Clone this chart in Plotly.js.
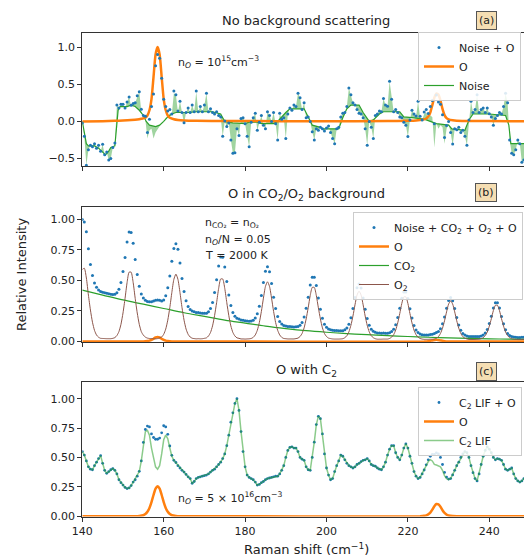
<!DOCTYPE html>
<html>
<head>
<meta charset="utf-8">
<script src="https://cdn.plot.ly/plotly-3.0.1.min.js"></script>
<style>html,body{margin:0;padding:0;overflow:hidden;background:#fff;}#plot{width:540px;height:558px;}</style>
</head>
<body>
<div id="plot"></div>
<script>
// ---------- shared x grid (Raman shift, cm^-1, step 0.5) ----------
const grid = [];
for (let i = 0; i <= 220; i++) grid.push(140 + 0.5 * i);
const xTicks = [140, 160, 180, 200, 220, 240];

// ---------- Panel (a): No background scattering ----------
const rawNoiseA = [
 -0.02,-0.20,-0.59,-0.38,-0.32,-0.34,-0.30,-0.36,-0.32,-0.40,
 -0.31,-0.45,-0.41,-0.52,-0.50,-0.35,-0.30,0.22,0.18,0.23,
 0.22,0.18,0.26,0.33,0.20,0.24,0.25,0.32,0.40,0.13,
 0.08,0.02,-0.23,-0.12,-0.10,-0.23,-0.15,-0.10,-0.05,-0.02,
 0.0,0.05,0.06,0.11,0.10,0.38,0.36,0.12,0.27,0.12,
 -0.03,0.12,0.18,0.12,0.22,0.13,0.40,0.13,0.20,0.13,
 0.22,0.38,0.13,0.17,0.12,0.10,0.13,0.08,0.06,-0.20,
 0.0,-0.07,-0.02,-0.25,-0.43,-0.42,-0.10,-0.19,0.04,0.05,
 -0.03,-0.20,-0.34,-0.01,0.05,0.11,-0.12,-0.01,0.08,-0.05,
 -0.10,0.13,0.08,0.0,0.12,-0.03,-0.25,0.11,0.03,0.05,
 -0.23,0.10,0.18,0.15,0.22,0.20,0.38,0.32,0.16,0.25,
 0.05,0.06,0.0,-0.14,-0.25,-0.10,-0.12,-0.08,-0.10,-0.13,
 -0.09,-0.06,-0.15,-0.23,-0.30,-0.10,-0.08,0.06,0.11,0.12,
 0.20,0.45,0.36,0.25,0.22,0.16,0.11,0.10,0.05,-0.10,
 -0.32,0.0,-0.08,-0.23,0.08,0.10,0.14,0.13,0.31,0.22,
 0.20,0.54,0.30,0.13,0.16,0.12,0.06,0.05,-0.01,-0.05,
 -0.21,0.02,0.15,0.10,0.06,0.27,0.05,0.02,0.10,0.12,
 0.04,0.08,0.06,-0.35,-0.02,-0.10,-0.05,-0.08,-0.30,-0.10,
 -0.03,-0.15,-0.32,-0.10,-0.12,-0.08,-0.15,-0.12,-0.20,-0.32,
 0.02,0.27,0.12,0.16,0.36,0.12,0.16,0.18,0.12,0.18,
 0.10,0.06,-0.05,0.04,0.08,0.12,0.10,0.20,0.38,0.25,
 -0.25,-0.43,-0.45,-0.38,-0.25,-0.30,-0.55,-0.52,-0.40,-0.30,
 -0.30
];
const noiseX = [140,140.5,141,141.5,143,144,145,145.7,146.5,147,148,148.4,148.8,149.3,151,152,153,154,155,155.7,
 156.5,158,159,160,161,162,163,166,168,172,174,175,177,180,181,183,184,187,188,190,
 191,194.5,195.5,196.5,198.5,199,203,204,205,206,208,209,210.5,211.5,213,214,218,219,221,224,
 225.5,227,230,230.8,234,235,236,240,244,244.8,245.3,248,250];
const noiseY = [0,-0.15,-0.3,-0.33,-0.33,-0.36,-0.42,-0.45,-0.4,-0.35,-0.33,-0.1,0.15,0.2,0.2,0.22,0.2,0.15,0.08,0.0,
 -0.05,-0.07,-0.05,0.0,0.06,0.1,0.12,0.12,0.13,0.13,0.1,0.0,-0.02,-0.03,-0.01,-0.01,-0.03,-0.03,0.0,0.12,
 0.17,0.17,0.05,-0.05,-0.08,-0.1,-0.1,0.05,0.17,0.22,0.22,0.12,0.0,0.02,0.1,0.13,0.13,0.06,0.05,0.03,
 0.0,-0.03,-0.05,-0.1,-0.12,0.02,0.1,0.1,0.08,-0.05,-0.3,-0.3,-0.3];
const oAx = [140,145,148,150,152,153.5,154.5,155.5,156,156.5,157,157.5,158,158.5,159,159.5,160,160.5,161,161.5,
 162.5,163.5,165,168,175,200,215,220,222,223,224,224.5,225,225.5,226,226.5,227,227.5,228,228.5,
 229,229.5,230,231,232,240,250];
const oAy = [0,0.003,0.008,0.012,0.018,0.025,0.035,0.05,0.08,0.15,0.3,0.6,0.9,1.0,0.9,0.6,0.3,0.15,0.08,0.05,
 0.03,0.02,0.013,0.008,0.005,0.003,0.004,0.008,0.012,0.018,0.028,0.04,0.065,0.12,0.22,0.32,0.375,0.36,0.28,0.17,
 0.085,0.045,0.028,0.015,0.009,0.004,0.002];

// ---------- Panel (b): O in CO2/O2 background ----------
const dotsB = [
 1.0,0.98,0.90,0.76,0.63,0.54,0.48,0.444,0.422,0.409,
 0.404,0.399,0.394,0.39,0.386,0.385,0.387,0.40,0.428,0.484,
 0.573,0.689,0.815,0.898,0.894,0.805,0.671,0.549,0.452,0.389,
 0.356,0.337,0.328,0.325,0.326,0.332,0.337,0.34,0.338,0.332,
 0.34,0.374,0.44,0.537,0.657,0.762,0.801,0.755,0.643,0.516,
 0.409,0.333,0.287,0.262,0.249,0.243,0.238,0.236,0.232,0.23,
 0.23,0.231,0.243,0.269,0.32,0.401,0.505,0.619,0.693,0.69,
 0.61,0.491,0.381,0.295,0.238,0.207,0.189,0.183,0.175,0.173,
 0.169,0.168,0.166,0.167,0.173,0.191,0.226,0.288,0.376,0.483,
 0.576,0.612,0.572,0.474,0.363,0.27,0.204,0.164,0.142,0.131,
 0.127,0.123,0.122,0.12,0.118,0.12,0.122,0.133,0.156,0.201,
 0.272,0.363,0.462,0.527,0.526,0.459,0.356,0.263,0.189,0.141,
 0.115,0.101,0.096,0.092,0.09,0.089,0.087,0.087,0.088,0.095,
 0.11,0.141,0.194,0.269,0.36,0.44,0.471,0.438,0.357,0.264,
 0.187,0.132,0.099,0.083,0.074,0.069,0.068,0.067,0.068,0.067,
 0.066,0.07,0.081,0.1,0.137,0.196,0.271,0.353,0.406,0.406,
 0.351,0.267,0.191,0.131,0.093,0.072,0.06,0.055,0.052,0.052,
 0.053,0.057,0.059,0.064,0.072,0.082,0.104,0.144,0.201,0.272,
 0.335,0.361,0.334,0.27,0.196,0.135,0.092,0.065,0.052,0.045,
 0.041,0.041,0.04,0.04,0.04,0.041,0.045,0.052,0.069,0.098,
 0.146,0.207,0.273,0.316,0.316,0.273,0.205,0.144,0.096,0.065,
 0.048,0.04,0.036,0.033,0.032,0.032,0.033,0.034,0.035,0.04,
 0.05
];
const o2B = [
 0.59,0.60,0.52,0.38,0.257,0.157,0.09,0.052,0.034,0.025,
 0.024,0.023,0.022,0.022,0.022,0.025,0.031,0.048,0.08,0.14,
 0.233,0.352,0.482,0.568,0.568,0.482,0.352,0.233,0.14,0.08,
 0.051,0.035,0.027,0.024,0.023,0.022,0.021,0.023,0.029,0.036,
 0.058,0.101,0.174,0.277,0.401,0.509,0.552,0.509,0.401,0.277,
 0.174,0.101,0.058,0.036,0.026,0.023,0.021,0.022,0.021,0.022,
 0.025,0.029,0.044,0.073,0.127,0.211,0.318,0.435,0.512,0.512,
 0.435,0.318,0.211,0.127,0.073,0.044,0.029,0.025,0.02,0.02,
 0.019,0.02,0.021,0.024,0.033,0.053,0.091,0.155,0.246,0.355,
 0.451,0.489,0.451,0.355,0.246,0.155,0.091,0.053,0.033,0.024,
 0.022,0.02,0.02,0.02,0.02,0.023,0.027,0.04,0.065,0.111,
 0.184,0.276,0.377,0.443,0.443,0.377,0.276,0.184,0.111,0.065,
 0.04,0.027,0.023,0.02,0.019,0.019,0.019,0.02,0.022,0.03,
 0.046,0.078,0.132,0.208,0.3,0.38,0.412,0.38,0.3,0.208,
 0.132,0.078,0.046,0.03,0.022,0.018,0.018,0.018,0.019,0.019,
 0.019,0.024,0.035,0.055,0.093,0.152,0.228,0.311,0.365,0.365,
 0.311,0.228,0.152,0.093,0.055,0.035,0.024,0.019,0.017,0.017,
 0.017,0.018,0.018,0.02,0.026,0.039,0.065,0.108,0.169,0.242,
 0.306,0.332,0.306,0.242,0.169,0.108,0.065,0.039,0.026,0.02,
 0.016,0.016,0.016,0.016,0.017,0.018,0.022,0.03,0.047,0.077,
 0.125,0.186,0.253,0.296,0.296,0.253,0.186,0.125,0.077,0.047,
 0.03,0.022,0.018,0.016,0.015,0.015,0.016,0.017,0.019,0.024,
 0.034
];
const co2X = [140,145,150,155,160,165,170,175,180,185,190,195,200,205,210,215,220,225,230,235,240,245,250];
const co2Y = [0.42,0.38,0.34,0.305,0.27,0.235,0.205,0.175,0.15,0.125,0.105,0.088,0.075,0.064,0.055,0.047,0.04,0.034,0.029,0.025,0.021,0.018,0.016];
const oBx = [140,155,156,156.5,157,157.5,158,158.5,159,159.5,160,160.5,161,162,224,225,226,227,228,229,230,250];
const oBy = [0,0,0.003,0.006,0.012,0.022,0.032,0.036,0.032,0.022,0.012,0.006,0.003,0,0,0.002,0.008,0.014,0.008,0.002,0,0];

// ---------- Panel (c): O with C2 ----------
const c2Lif = [
 0.55,0.52,0.47,0.42,0.40,0.395,0.43,0.46,0.49,0.515,
 0.45,0.39,0.365,0.38,0.395,0.405,0.39,0.36,0.31,0.285,
 0.265,0.245,0.235,0.24,0.26,0.29,0.31,0.34,0.38,0.47,
 0.62,0.72,0.73,0.69,0.58,0.49,0.42,0.40,0.43,0.53,
 0.65,0.69,0.66,0.58,0.51,0.475,0.455,0.43,0.41,0.39,
 0.375,0.355,0.335,0.32,0.28,0.295,0.32,0.33,0.335,0.34,
 0.345,0.35,0.36,0.375,0.39,0.40,0.42,0.44,0.46,0.49,
 0.53,0.6,0.69,0.8,0.88,0.96,1.0,0.9,0.72,0.55,
 0.42,0.35,0.33,0.32,0.31,0.29,0.265,0.27,0.285,0.295,
 0.31,0.32,0.325,0.33,0.335,0.34,0.34,0.36,0.39,0.43,
 0.5,0.56,0.585,0.59,0.58,0.58,0.55,0.5,0.485,0.475,
 0.42,0.395,0.39,0.5,0.63,0.78,0.85,0.83,0.7,0.53,
 0.41,0.35,0.31,0.32,0.38,0.43,0.47,0.52,0.51,0.48,
 0.45,0.43,0.42,0.41,0.42,0.44,0.45,0.465,0.475,0.48,
 0.49,0.47,0.44,0.43,0.425,0.41,0.40,0.395,0.42,0.46,
 0.52,0.57,0.6,0.6,0.54,0.5,0.48,0.52,0.58,0.615,
 0.58,0.51,0.45,0.38,0.34,0.32,0.33,0.36,0.39,0.43,
 0.465,0.48,0.47,0.44,0.435,0.43,0.42,0.39,0.345,0.32,
 0.31,0.32,0.35,0.39,0.43,0.46,0.5,0.53,0.55,0.54,
 0.5,0.43,0.37,0.32,0.30,0.36,0.44,0.51,0.56,0.59,
 0.57,0.54,0.5,0.48,0.49,0.485,0.475,0.44,0.40,0.39,
 0.40,0.41,0.36,0.32,0.30,0.29,0.3,0.32,0.34,0.36,
 0.38
];
const oCx = [140,153,154,155,155.5,156,156.5,157,157.5,158,158.5,159,159.5,160,160.5,161,161.5,162,163,164,
 223,224,224.5,225,225.5,226,226.5,227,227.5,228,228.5,229,229.5,230,231,232,250];
const oCy = [0,0,0.002,0.008,0.018,0.037,0.07,0.12,0.18,0.235,0.255,0.235,0.18,0.12,0.07,0.037,0.018,0.008,0.002,0,
 0,0.003,0.007,0.015,0.03,0.055,0.085,0.103,0.1,0.08,0.05,0.027,0.013,0.006,0.001,0,0];

// total signal = base series + O peak series (at the shared grid points)
function addPeaks(base, px, py) {
  const m = {};
  px.forEach((x, i) => { m[x.toFixed(1)] = py[i]; });
  return base.map((v, i) => v + (m[grid[i].toFixed(1)] || 0));
}
const dotsA = addPeaks(rawNoiseA, oAx, oAy);
const dotsC = addPeaks(c2Lif, oCx, oCy);

// ---------- styling ----------
const W = 540, H = 558;
const PX = x => x / W, PY = y => 1 - y / H;
const FONT = 'DejaVu Sans, Arial, sans-serif';
const BLUE = '#1f77b4', ORANGE = '#ff7f0e', GREEN = '#2ca02c', BROWN = '#8c564b';
const mk = {size: 3, color: BLUE};

const traces = [
  // (a)
  {x: grid, y: rawNoiseA, mode: 'lines', line: {width: 0, color: 'rgba(0,0,0,0)'}, showlegend: false, hoverinfo: 'skip', xaxis: 'x', yaxis: 'y'},
  {x: noiseX, y: noiseY, mode: 'lines', fill: 'tonexty', fillcolor: 'rgba(44,160,44,0.45)', line: {width: 0, color: 'rgba(0,0,0,0)'}, showlegend: false, hoverinfo: 'skip', xaxis: 'x', yaxis: 'y'},
  {x: noiseX, y: noiseY, mode: 'lines', name: 'Noise', line: {color: GREEN, width: 1.2}, xaxis: 'x', yaxis: 'y', legend: 'legend', legendrank: 3},
  {x: oAx, y: oAy, mode: 'lines', name: 'O', line: {color: ORANGE, width: 2.5, shape: 'spline', smoothing: 0.6}, xaxis: 'x', yaxis: 'y', legend: 'legend', legendrank: 2},
  {x: grid, y: dotsA, mode: 'markers', name: 'Noise + O', marker: mk, xaxis: 'x', yaxis: 'y', legend: 'legend', legendrank: 1},
  // (b)
  {x: grid, y: dotsB, mode: 'markers', name: 'Noise + CO<sub>2</sub> + O<sub>2</sub> + O', marker: mk, xaxis: 'x2', yaxis: 'y2', legend: 'legend2', legendrank: 1},
  {x: oBx, y: oBy, mode: 'lines', name: 'O', line: {color: ORANGE, width: 2.5, shape: 'spline', smoothing: 0.6}, xaxis: 'x2', yaxis: 'y2', legend: 'legend2', legendrank: 2},
  {x: co2X, y: co2Y, mode: 'lines', name: 'CO<sub>2</sub>', line: {color: GREEN, width: 1.2, shape: 'spline'}, xaxis: 'x2', yaxis: 'y2', legend: 'legend2', legendrank: 3},
  {x: grid, y: o2B, mode: 'lines', name: 'O<sub>2</sub>', line: {color: BROWN, width: 1, shape: 'spline', smoothing: 0.6}, xaxis: 'x2', yaxis: 'y2', legend: 'legend2', legendrank: 4},
  // (c)
  {x: grid, y: dotsC, mode: 'markers', name: 'C<sub>2</sub> LIF + O', marker: {size: 2.8, color: BLUE}, xaxis: 'x3', yaxis: 'y3', legend: 'legend3', legendrank: 1},
  {x: oCx, y: oCy, mode: 'lines', name: 'O', line: {color: ORANGE, width: 2.5, shape: 'spline', smoothing: 0.6}, xaxis: 'x3', yaxis: 'y3', legend: 'legend3', legendrank: 2},
  {x: grid, y: c2Lif, mode: 'lines', name: 'C<sub>2</sub> LIF', line: {color: 'rgba(44,160,44,0.55)', width: 1.5}, xaxis: 'x3', yaxis: 'y3', legend: 'legend3', legendrank: 3}
];

const xDomain = [82.3 / W, 530 / W];
function xAx(showLabels) {
  return {domain: xDomain, range: [140, 250], tickvals: xTicks, showticklabels: showLabels,
    showline: true, mirror: true, linecolor: '#333', linewidth: 1, ticks: 'outside', ticklen: 4,
    tickcolor: '#333', showgrid: false, zeroline: false,
    tickfont: {family: FONT, size: 11, color: '#222'}};
}
function yAx(dom, range, vals, fmt) {
  return {domain: dom, range: range, tickvals: vals, tickformat: fmt,
    showline: true, mirror: true, linecolor: '#333', linewidth: 1, ticks: 'outside', ticklen: 4,
    tickcolor: '#333', showgrid: false, zeroline: false,
    tickfont: {family: FONT, size: 11, color: '#222'}};
}
function leg(x, y) {
  return {x: PX(x), y: PY(y), xanchor: 'left', yanchor: 'top', bgcolor: 'rgba(255,255,255,0.85)',
    bordercolor: '#cccccc', borderwidth: 1, traceorder: 'normal',
    font: {family: FONT, size: 11, color: '#222'}, tracegroupgap: 0};
}
function txt(x, y, text, opts) {
  return Object.assign({xref: 'paper', yref: 'paper', x: PX(x), y: PY(y), text: text, showarrow: false,
    xanchor: 'left', yanchor: 'middle', font: {family: FONT, size: 11, color: '#222'}}, opts || {});
}
function title(y, text) {
  return txt(306, y, text, {xanchor: 'center', font: {family: FONT, size: 13, color: '#222'}});
}
function tag(y, text) {
  return txt(486, y, text, {xanchor: 'center', bgcolor: '#f5deb3', bordercolor: '#555', borderwidth: 1, borderpad: 2,
    font: {family: FONT, size: 11, color: '#222'}});
}

const layout = {
  width: W, height: H, margin: {l: 0, r: 0, t: 0, b: 0, pad: 0},
  paper_bgcolor: '#fff', plot_bgcolor: '#fff', font: {family: FONT, color: '#222'},
  xaxis: Object.assign(xAx(false), {anchor: 'y'}),
  yaxis: Object.assign(yAx([PY(166), PY(33)], [-0.6, 1.19], [-0.5, 0, 0.5, 1.0], '.1f'), {anchor: 'x'}),
  xaxis2: Object.assign(xAx(false), {anchor: 'y2'}),
  yaxis2: Object.assign(yAx([PY(342), PY(206.7)], [-0.005, 1.105], [0, 0.25, 0.5, 0.75, 1.0], '.2f'), {anchor: 'x2'}),
  xaxis3: Object.assign(xAx(true), {anchor: 'y3'}),
  yaxis3: Object.assign(yAx([PY(516.5), PY(381.7)], [-0.003, 1.145], [0, 0.25, 0.5, 0.75, 1.0], '.2f'), {anchor: 'x3'}),
  legend: leg(418, 32),
  legend2: leg(353, 212),
  legend3: leg(418, 387),
  annotations: [
    title(21, 'No background scattering'),
    title(194, 'O in CO<sub>2</sub>/O<sub>2</sub> background'),
    title(370, 'O with C<sub>2</sub>'),
    tag(20, '(a)'), tag(192, '(b)'), tag(371, '(c)'),
    txt(176, 62, 'n<sub><i>O</i></sub> = 10<sup>15</sup>cm<sup>−3</sup>'),
    txt(203, 223, 'n<sub>CO₂</sub> = n<sub>O₂</sub>'),
    txt(203, 240, 'n<sub><i>O</i></sub>/N = 0.05'),
    txt(203, 255, 'T = 2000 K'),
    txt(176, 498, 'n<sub><i>O</i></sub> = 5 × 10<sup>16</sup>cm<sup>−3</sup>'),
    txt(306, 549, 'Raman shift (cm<sup>−1</sup>)', {xanchor: 'center', font: {family: FONT, size: 13, color: '#222'}}),
    txt(22, 275, 'Relative Intensity', {xanchor: 'center', textangle: -90, font: {family: FONT, size: 13, color: '#222'}})
  ]
};

Plotly.newPlot('plot', traces, layout, {displayModeBar: false, responsive: false, staticPlot: true});
</script>
</body>
</html>
